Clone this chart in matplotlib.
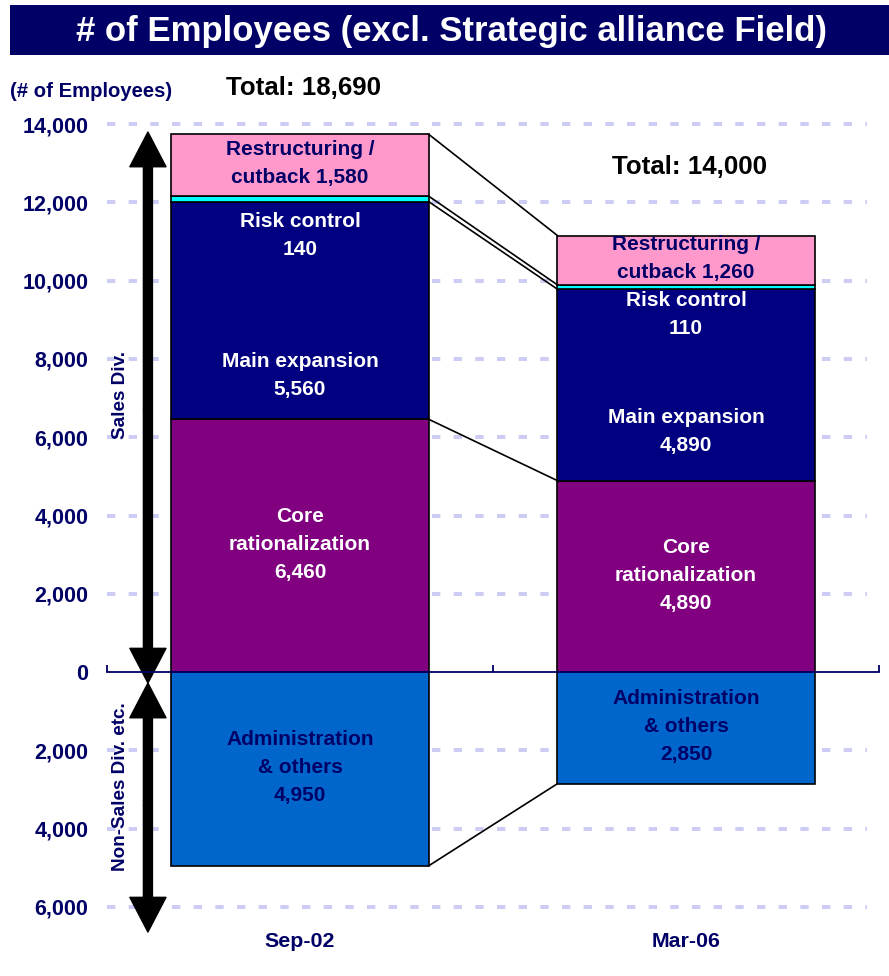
import matplotlib
matplotlib.use('Agg')
import matplotlib.pyplot as plt
from matplotlib import font_manager
from matplotlib.patches import Rectangle, FancyArrowPatch
from matplotlib.ticker import FuncFormatter


periods  = ['Sep-02', 'Mar-06']
core     = [6460, 4890]   # Core rationalization
main_exp = [5560, 4890]   # Main expansion
risk     = [140, 110]     # Risk control
restruct = [1580, 1260]   # Restructuring / cutback
admin    = [4950, 2850]   # Administration & others (non-sales, drawn below 0)

NAVY_TXT = '#000066'
colores = {'core': '#800080', 'main': '#000080', 'risk': '#00FFFF',
           'restruct': '#FF99CC', 'admin': '#0066CC'}

names = {f.name for f in font_manager.fontManager.ttflist}
NARROW = 'Liberation Sans Narrow' if 'Liberation Sans Narrow' in names else 'Liberation Sans'
plt.rcParams['font.family'] = ['Liberation Sans', 'DejaVu Sans']
plt.rcParams['lines.scale_dashes'] = False

W, H = 889, 976
fig = plt.figure(figsize=(W / 100, H / 100), dpi=100)
ax = fig.add_axes([107 / W, 69 / H, 772 / W, 783 / H])
ax.set_xlim(-0.5, 1.5)
ax.set_ylim(-6000, 14000)

# grid
for yv in range(-6000, 14001, 2000):
    if yv == 0:
        continue
    ax.plot([-0.5, 1.47], [yv, yv], color='#CCCCF5', lw=2.9, ls=(0, (6, 9.6)),
            zorder=0, solid_capstyle='butt', dash_capstyle='butt', clip_on=False)

x = [0, 1]
bw = 0.666
ec = dict(edgecolor='black', linewidth=1.2)
b1 = core
b2 = [c + m for c, m in zip(core, main_exp)]
b3 = [a + r for a, r in zip(b2, risk)]
top = [a + r for a, r in zip(b3, restruct)]
ax.bar(x, core, bw, color=colores['core'], zorder=2, **ec)
ax.bar(x, main_exp, bw, bottom=b1, color=colores['main'], zorder=2, **ec)
ax.bar(x, risk, bw, bottom=b2, color=colores['risk'], zorder=2, **ec)
ax.bar(x, restruct, bw, bottom=b3, color=colores['restruct'], zorder=2, **ec)
ax.bar(x, [-a for a in admin], bw, color=colores['admin'], zorder=2, **ec)

# connector lines between the two bars
xl, xr = x[0] + bw / 2, x[1] - bw / 2
for ys in [top, b3, b2, b1, [-a for a in admin]]:
    ax.plot([xl, xr], [ys[0], ys[1]], color='black', lw=1.2, zorder=3)

# segment labels
lab = dict(ha='center', va='center', fontsize=15, fontweight='bold', linespacing=1.6, zorder=4)
risk_y = [11164, 9146]
main_y = [7588, 6157]
for i in range(2):
    ax.text(x[i], b3[i] + restruct[i] / 2 + 40, f'Restructuring /\ncutback {restruct[i]:,}',
            color=NAVY_TXT, **lab)
    ax.text(x[i], risk_y[i], f'Risk control\n{risk[i]:,}', color='white', **lab)
    ax.text(x[i], main_y[i], f'Main expansion\n{main_exp[i]:,}', color='white', **lab)
    ax.text(x[i], core[i] / 2 + 20, f'Core\nrationalization\n{core[i]:,}', color='white', **lab)
    ax.text(x[i], -admin[i] / 2 + 30, f'Administration\n& others\n{admin[i]:,}',
            color=NAVY_TXT, **lab)

# totals
tot_y = [14915, 12913]
for i in range(2):
    ax.text(x[i] + 0.01, tot_y[i], f'Total: {top[i] + admin[i]:,}', ha='center', va='center',
            fontsize=18.6, fontweight='bold', family=NARROW, color='black', clip_on=False)

# axes styling
for s in ['left', 'right', 'top']:
    ax.spines[s].set_visible(False)
ax.spines['bottom'].set_position(('data', 0))
ax.spines['bottom'].set_color(NAVY_TXT)
ax.spines['bottom'].set_linewidth(1.3)
ax.spines['bottom'].set_zorder(5)
ax.set_xticks([-0.5, 0.5, 1.5])
ax.set_xticklabels([])
ax.tick_params(axis='x', direction='in', length=5, width=1.3, color=NAVY_TXT)
ax.set_yticks(range(-6000, 14001, 2000))
ax.yaxis.set_major_formatter(FuncFormatter(lambda v, p: f'{abs(int(v)):,}'))
ax.tick_params(axis='y', length=0, pad=13.5, labelsize=15.5, labelcolor=NAVY_TXT)
for t in ax.get_yticklabels():
    t.set_fontweight('bold')

for i in range(2):
    ax.text(x[i], -0.044, periods[i], transform=ax.get_xaxis_transform(), ha='center',
            va='center', fontsize=15.4, fontweight='bold', color=NAVY_TXT)

# Sales / Non-sales arrows
xa = -0.394
sty = 'simple,head_length=25,head_width=26,tail_width=6.5'
for y0, y1 in [(6700, 13795), (6700, -280), (-3400, -280), (-3400, -6640)]:
    ax.add_patch(FancyArrowPatch((xa, y0), (xa, y1), arrowstyle=sty, mutation_scale=1,
                                 color='black', shrinkA=0, shrinkB=0, clip_on=False, zorder=3))
ax.text(-0.466, 7077, 'Sales Div.', rotation=90, ha='center', va='center', fontsize=13.6,
        fontweight='bold', color=NAVY_TXT, zorder=4)
ax.text(-0.466, -2938, 'Non-Sales Div. etc.', rotation=90, ha='center', va='center',
        fontsize=13.6, fontweight='bold', color=NAVY_TXT, zorder=4)

# title bar
fig.patches.append(Rectangle((10 / W, 1 - 55 / H), 1 - 10 / W, 50 / H, transform=fig.transFigure,
                             facecolor='#000066', edgecolor='none'))
fig.text(452 / W, 1 - 31 / H, '# of Employees (excl. Strategic alliance Field)', ha='center',
         va='center', fontsize=25, fontweight='bold', family=NARROW, color='white')
fig.text(10 / W, 1 - 91 / H, '(# of Employees)', ha='left', va='center', fontsize=14.6,
         fontweight='bold', family=NARROW, color=NAVY_TXT)

fig.savefig('out.png', dpi=100)
